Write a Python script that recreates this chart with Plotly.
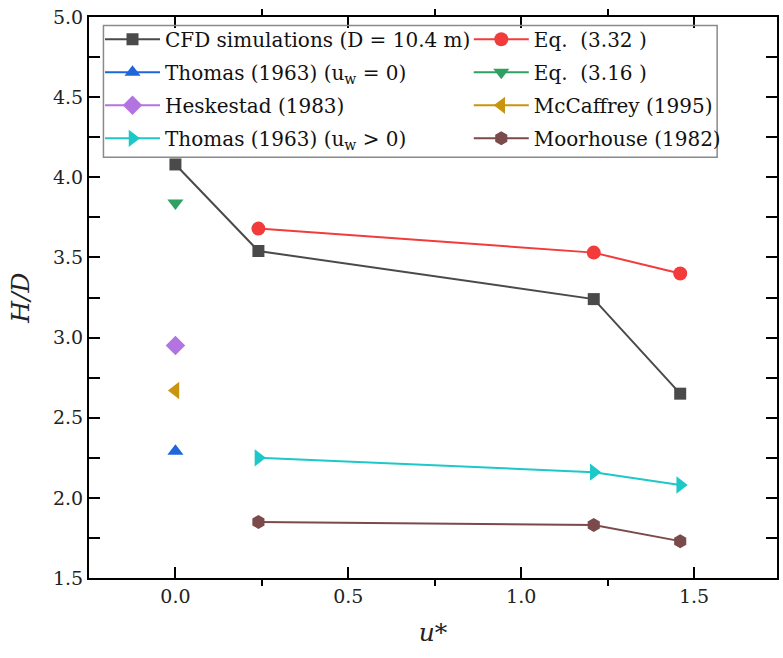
import plotly.graph_objects as go

# Dimensionless wind speed u* and flame height ratio H/D
u_cfd = [0, 0.24, 1.21, 1.46]
hd_cfd = [4.08, 3.54, 3.24, 2.65]

u_wind = [0.24, 1.21, 1.46]
hd_eq332 = [3.68, 3.53, 3.40]
hd_thomas_wind = [2.25, 2.16, 2.08]
hd_moorhouse = [1.85, 1.83, 1.73]

u_still = [0]
hd_thomas_still = [2.29]
hd_eq316 = [3.84]
hd_heskestad = [2.95]
hd_mccaffrey = [2.67]

names = {
    "cfd": "CFD simulations (D = 10.4 m)",
    "eq332": "Eq.  (3.32 )",
    "thomas0": "Thomas (1963) (u<sub>w</sub> = 0)",
    "eq316": "Eq.  (3.16 )",
    "hesk": "Heskestad (1983)",
    "mcc": "McCaffrey (1995)",
    "thomas1": "Thomas (1963) (u<sub>w</sub> > 0)",
    "moor": "Moorhouse (1982)",
}

FONT = "DejaVu Serif"

fig = go.Figure()


def add(x, y, key, color, symbol, size, legend):
    fig.add_trace(go.Scatter(
        x=x, y=y, name=names[key], mode="lines+markers",
        line=dict(color=color, width=2),
        marker=dict(symbol=symbol, size=size, color=color),
        legend=legend, legendgroup=key,
    ))


add(u_cfd, hd_cfd, "cfd", "#4a4a4a", "square", 12, "legend")
add(u_still, hd_thomas_still, "thomas0", "#1f66dc", "triangle-up", 14, "legend")
add(u_still, hd_heskestad, "hesk", "#b374e2", "diamond", 15, "legend")
add(u_wind, hd_thomas_wind, "thomas1", "#1cc8c8", "triangle-right", 15, "legend")
add(u_wind, hd_eq332, "eq332", "#f23c3c", "circle", 14, "legend2")
add(u_still, hd_eq316, "eq316", "#2fa062", "triangle-down", 14, "legend2")
add(u_still, hd_mccaffrey, "mcc", "#c9940e", "triangle-left", 15, "legend2")
add(u_wind, hd_moorhouse, "moor", "#7b4a4a", "hexagon", 14, "legend2")

legend_style = dict(
    font=dict(family=FONT, size=20, color="#111"),
    bgcolor="rgba(0,0,0,0)", borderwidth=0,
    xanchor="left", yanchor="top", itemwidth=55,
    traceorder="grouped", tracegroupgap=4,
)

axis_common = dict(
    showline=True, linecolor="black", linewidth=2, mirror="ticks",
    ticks="inside", ticklen=11, tickwidth=2, tickcolor="black",
    showgrid=False, zeroline=False,
    tickfont=dict(family=FONT, size=19, color="#222"),
)

fig.update_layout(
    width=783, height=658,
    margin=dict(l=89, r=4, t=17, b=80),
    paper_bgcolor="white", plot_bgcolor="white",
    font=dict(family=FONT),
    legend=dict(x=0.016, y=0.995, **legend_style),
    legend2=dict(x=0.552, y=0.995, **legend_style),
    xaxis=dict(
        range=[-0.25, 1.74], tickvals=[0, 0.5, 1.0, 1.5],
        ticktext=["0.0", "0.5", "1.0", "1.5"],
        minor=dict(tickvals=[-0.25, 0.25, 0.75, 1.25], ticks="outside",
                   ticklen=6, tickwidth=2, tickcolor="black"),
        title=dict(text="<i>u*</i>", font=dict(family=FONT, size=25, color="#222"),
                   standoff=18),
        **axis_common,
    ),
    yaxis=dict(
        range=[1.5, 5.0], tickvals=[1.5, 2.0, 2.5, 3.0, 3.5, 4.0, 4.5, 5.0],
        ticktext=["1.5", "2.0", "2.5", "3.0", "3.5", "4.0", "4.5", "5.0"],
        minor=dict(tickvals=[1.75, 2.25, 2.75, 3.25, 3.75, 4.25, 4.75],
                   ticks="inside", ticklen=11, tickwidth=2, tickcolor="black"),
        title=dict(text="<i>H/D</i>", font=dict(family=FONT, size=25, color="#222"),
                   standoff=16),
        **axis_common,
    ),
    shapes=[dict(
        type="rect", xref="paper", yref="paper",
        x0=0.021, x1=0.913, y0=0.75, y1=0.985,
        line=dict(color="#8a8a8a", width=1.5), fillcolor="rgba(0,0,0,0)",
    )],
)

fig.write_html("out.html")
